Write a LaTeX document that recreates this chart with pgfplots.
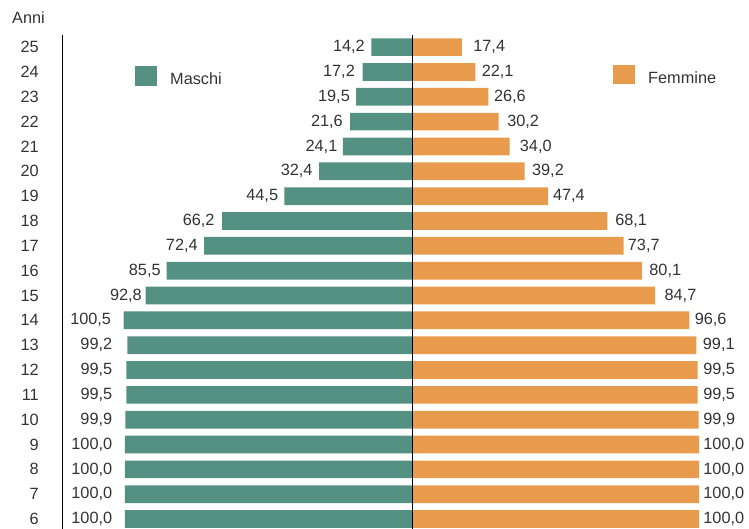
\documentclass[border=0pt]{standalone}
\usepackage{fontspec}
\setmainfont{Liberation Sans}
\usepackage{pgfplots}
\usepackage{pgfplotstable}
\pgfplotsset{compat=1.18}
\pgfplotsset{/pgf/number format/assume math mode=true}

\definecolor{maschi}{RGB}{85,145,130}
\definecolor{femmine}{RGB}{232,155,76}
\definecolor{testo}{RGB}{51,51,51}

% età, maschi, femmine; mo/fo = distanza (bp) dell'etichetta dalla barra
\pgfplotstableread{
age m f mo fo
25 14.2 17.4 6.3 11.2
24 17.2 22.1 7.6 6.2
23 19.5 26.6 6.0 5.5
22 21.6 30.2 7.0 8.4
21 24.1 34.0 5.3 10.1
20 32.4 39.2 6.3 7.4
19 44.5 47.4 6.0 4.8
18 66.2 68.1 7.3 7.6
17 72.4 73.7 6.3 4.2
16 85.5 80.1 5.8 7.3
15 92.8 84.7 3.7 9.3
14 100.5 96.6 12.3 5.3
13 99.2 99.1 14.9 6.3
12 99.5 99.5 14.0 5.5
11 99.5 99.5 14.0 5.5
10 99.9 99.9 12.9 4.5
9 100.0 100.0 12.6 4.2
8 100.0 100.0 12.6 4.2
7 100.0 100.0 12.6 4.2
6 100.0 100.0 12.6 4.2
}\dati

\newcommand{\testofont}{\fontsize{16.3bp}{19bp}\selectfont}

\begin{document}
\begin{tikzpicture}
\begin{axis}[
  at={(62bp,0bp)}, anchor=south west,
  scale only axis, width=687bp, height=494.3bp,
  xmin=-121.95, xmax=117.42, ymin=5.6, ymax=25.5,
  axis x line=none, axis y line*=left,
  y axis line style={-, black, line width=0.8bp},
  ytick={6,...,25}, major tick length=0pt,
  yticklabel style={anchor=east, inner sep=0pt, xshift=-23bp},
  tick label style={font=\testofont, text=testo},
  bar width=17.7bp, bar shift=0pt,
  clip=false,
  nodes near coords style={font=\testofont, text=testo, inner sep=0pt},
]
\addplot[xbar, fill=maschi, draw=none, point meta=explicit,
  visualization depends on={\thisrow{mo} \as \mgap},
  nodes near coords={\pgfmathprintnumber[fixed,fixed zerofill,precision=1,use comma]{\pgfplotspointmeta}},
  every node near coord/.append style={anchor=east, xshift={-\mgap bp}}]
  table[x expr=-\thisrow{m}, y=age, meta=m]{\dati};
\addplot[xbar, fill=femmine, draw=none, point meta=explicit,
  visualization depends on={\thisrow{fo} \as \fgap},
  nodes near coords={\pgfmathprintnumber[fixed,fixed zerofill,precision=1,use comma]{\pgfplotspointmeta}},
  every node near coord/.append style={anchor=west, xshift={\fgap bp}}]
  table[x=f, y=age, meta=f]{\dati};
\addplot[black, line width=0.8bp, mark=none] coordinates {(0,5.6) (0,25.5)};
\end{axis}

% titolo dell'asse e legenda
\node[anchor=base west, inner sep=0pt, text=testo, font=\testofont] at (12bp,505bp) {Anni};
\fill[maschi] (135bp,443bp) rectangle (157bp,463bp);
\node[anchor=base west, inner sep=0pt, text=testo, font=\testofont] at (170bp,444bp) {Maschi};
\fill[femmine] (613bp,445bp) rectangle (635bp,464bp);
\node[anchor=base west, inner sep=0pt, text=testo, font=\testofont] at (648bp,445bp) {Femmine};

\pgfresetboundingbox
\useasboundingbox (0bp,0bp) rectangle (749bp,529bp);
\end{tikzpicture}
\end{document}
